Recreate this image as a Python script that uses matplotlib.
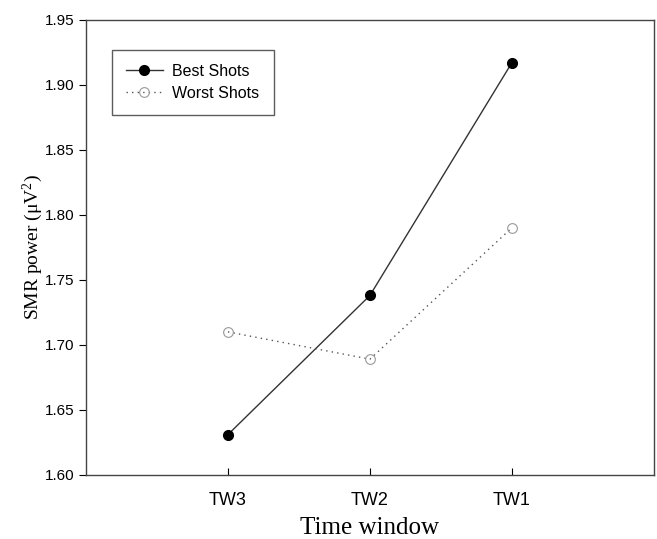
import matplotlib.pyplot as plt

# data
windows = ["TW3", "TW2", "TW1"]
best_shots = [1.631, 1.738, 1.917]
worst_shots = [1.710, 1.689, 1.790]
yticks = [1.60, 1.65, 1.70, 1.75, 1.80, 1.85, 1.90, 1.95]

x = [1, 2, 3]

fig = plt.figure(figsize=(6.57, 5.39), dpi=100)
ax = fig.add_axes([0.131, 0.119, 0.864, 0.844])

ax.plot(x, best_shots, color="#333333", lw=1.0, marker="o", ms=7,
        mfc="black", mec="black", label="Best Shots")
ax.plot(x, worst_shots, color="#555555", lw=1.0, ls=(0, (1, 3)), marker="o", ms=7,
        mfc="none", mec="#999999", mew=0.8, label="Worst Shots")

ax.set_xlim(0, 4)
ax.set_ylim(1.60, 1.95)
ax.set_xticks(x)
ax.set_xticklabels(windows, fontfamily="Liberation Sans", fontsize=13)
ax.set_yticks(yticks)
ax.set_yticklabels([f"{v:.2f}" for v in yticks], fontfamily="Liberation Sans", fontsize=11)
ax.tick_params(axis="x", direction="in", length=5, pad=12)
ax.tick_params(axis="y", direction="out", length=5)
for s in ax.spines.values():
    s.set_color("#444444")
    s.set_linewidth(1.0)

ax.set_xlabel("Time window", fontfamily="Liberation Serif", fontsize=18, labelpad=6)
ax.set_ylabel(r"SMR power ($\mathregular{\mu V^2}$)", fontfamily="Liberation Serif",
              fontsize=14, labelpad=0)

leg = ax.legend(loc="upper left", bbox_to_anchor=(0.045, 0.935), fancybox=False,
                prop={"family": "Liberation Sans", "size": 11.5}, handlelength=2.3,
                borderpad=0.9, labelspacing=0.45, handletextpad=0.6, borderaxespad=0)
leg.get_frame().set_edgecolor("#333333")
leg.get_frame().set_linewidth(1.0)

fig.savefig("out.png", dpi=100)
